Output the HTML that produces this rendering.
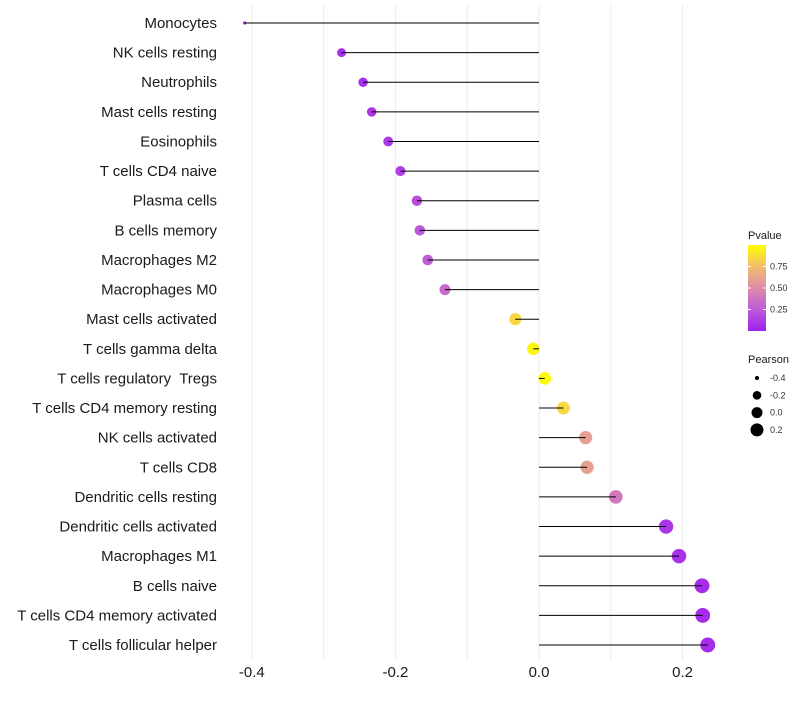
<!DOCTYPE html>
<html><head><meta charset="utf-8"><style>
body{margin:0;background:#fff;font-family:"Liberation Sans",sans-serif}
</style></head><body>
<svg id="chart" width="800" height="700" xmlns="http://www.w3.org/2000/svg" font-family="Liberation Sans, sans-serif">
<g id="grid"></g>
<g id="marks"></g>
<g id="axes"></g>
<g id="legend"></g>
</svg>
<script>
const categories=["Monocytes","NK cells resting","Neutrophils","Mast cells resting","Eosinophils","T cells CD4 naive","Plasma cells","B cells memory","Macrophages M2","Macrophages M0","Mast cells activated","T cells gamma delta","T cells regulatory  Tregs","T cells CD4 memory resting","NK cells activated","T cells CD8","Dendritic cells resting","Dendritic cells activated","Macrophages M1","B cells naive","T cells CD4 memory activated","T cells follicular helper"];
const pearson=[-0.41,-0.275,-0.245,-0.233,-0.21,-0.193,-0.17,-0.166,-0.155,-0.131,-0.033,-0.008,0.008,0.034,0.065,0.067,0.107,0.177,0.195,0.227,0.228,0.235];
const pvalue=[0.02,0.06,0.07,0.09,0.1,0.13,0.2,0.24,0.27,0.33,0.85,0.97,0.98,0.85,0.6,0.6,0.4,0.1,0.08,0.05,0.05,0.05];
const xTicks=[-0.4,-0.2,0.0,0.2];
const xTickLabels=["-0.4","-0.2","0.0","0.2"];
const xMinor=[-0.3,-0.1,0.1];
const pLegendVals=[0.25,0.5,0.75];
const sizeLegendVals=[-0.4,-0.2,0.0,0.2];

const NS="http://www.w3.org/2000/svg";
const x=v=>539+v*718;
const y=i=>23+i*29.62;
const r=v=>{const a=v<-0.275?2.5+(v+0.41)/0.135*17.5:20+(v+0.275)*70;return Math.sqrt(Math.max(1,a));};
const stops=[[0,[160,32,240]],[0.25,[190,90,215]],[0.5,[222,140,170]],[0.75,[242,190,110]],[1,[255,255,0]]];
function col(p){for(let k=1;k<stops.length;k++){if(p<=stops[k][0]){const a=stops[k-1],b=stops[k];const t=(p-a[0])/(b[0]-a[0]);const c=a[1].map((q,j)=>Math.round(q+(b[1][j]-q)*t));return `rgb(${c})`;}}return "rgb(255,255,0)";}
function mk(tag,at,parent){const e=document.createElementNS(NS,tag);for(const k in at)e.setAttribute(k,at[k]);parent.appendChild(e);return e;}
const grid=document.getElementById('grid'),marks=document.getElementById('marks'),axes=document.getElementById('axes'),lg=document.getElementById('legend');
xMinor.concat(xTicks).forEach(v=>{const l=mk('line',{x1:x(v),x2:x(v),y1:5,y2:660,stroke:'#ebebeb','stroke-width':1},grid);

});
categories.forEach((c,i)=>{
 const cc=mk('circle',{cx:x(pearson[i]),cy:y(i),r:r(pearson[i]),fill:col(pvalue[i])},marks);
 
 
 const s=mk('line',{x1:x(0),x2:x(pearson[i]),y1:y(i),y2:y(i),stroke:'#000','stroke-width':1},marks);
 
 
 const t=mk('text',{x:217,y:y(i)+5,'text-anchor':'end','font-size':15,fill:'#1a1a1a',style:'white-space:pre'},axes);
 t.textContent=c;
 
 
});
xTicks.forEach((v,i)=>{const t=mk('text',{x:x(v),y:677,'text-anchor':'middle','font-size':15,fill:'#1a1a1a'},axes);t.textContent=xTickLabels[i];

});
const defs=mk('defs',{},lg);const gr=mk('linearGradient',{id:'pg',x1:0,y1:1,x2:0,y2:0},defs);
stops.forEach(s=>mk('stop',{offset:s[0],'stop-color':col(s[0])},gr));
const t1=mk('text',{x:748,y:239,'font-size':11,fill:'#1a1a1a'},lg);t1.textContent='Pvalue';


const bar=mk('rect',{x:748,y:245,width:18,height:86,fill:'url(#pg)'},lg);


const py=p=>331-p*86;
pLegendVals.forEach(p=>{mk('line',{x1:748,x2:751,y1:py(p),y2:py(p),stroke:'#fff'},lg);mk('line',{x1:763,x2:766,y1:py(p),y2:py(p),stroke:'#fff'},lg);
const t=mk('text',{x:770,y:py(p)+3,'font-size':9,fill:'#333'},lg);t.textContent=p.toFixed(2);

});
const t2=mk('text',{x:748,y:363,'font-size':11,fill:'#1a1a1a'},lg);t2.textContent='Pearson';


const legR=[2,4.3,5.5,6.5];
sizeLegendVals.forEach((v,i)=>{const cy=378+i*17.3;const c=mk('circle',{cx:757,cy:cy,r:legR[i],fill:'#000'},lg);


const t=mk('text',{x:770,y:cy+3,'font-size':9,fill:'#333'},lg);t.textContent=v.toFixed(1);

});
</script>
</body></html>
